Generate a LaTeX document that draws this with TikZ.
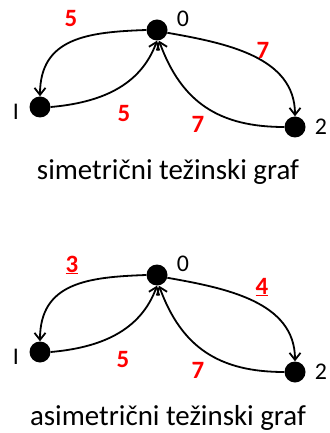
\documentclass[tikz,border=0pt]{standalone}
\usepackage{fontspec}
\setmainfont{Carlito}
\usetikzlibrary{arrows.meta}
\begin{document}
\begin{tikzpicture}[x=1bp,y=-1bp,
  vert/.style={circle,fill=black,inner sep=0pt,minimum size=21bp},
  vlab/.style={font=\fontsize{24}{28}\selectfont,inner sep=0pt},
  wlab/.style={font=\fontsize{25}{30}\selectfont\bfseries,text=red,inner sep=0pt},
  capt/.style={font=\fontsize{29}{34}\selectfont,anchor=base,inner sep=0pt},
  edge/.style={line width=1.8bp,-{Straight Barb[length=7bp,width=11bp,line width=1.8bp]}}]
\useasboundingbox (0,0) rectangle (329,433);
% top graph
\node[vert] (a0) at (157,30) {};
\node[vert] (a1) at (40,107) {};
\node[vert] (a2) at (295,127) {};
\node[vlab] (a0l) at (183,19) {0};
\node[vlab] (a1l) at (16,112) {I};
\node[vlab] (a2l) at (321,127) {2};
\draw[edge] (a0.west) to[out=182,in=90,looseness=1.2] (a1.north);
\draw[edge] (a1.east) to[out=5,in=250,looseness=1] (a0.south);
\draw[edge] (a0.-15) to[out=-10,in=90,looseness=1] (a2.north);
\draw[edge] (a2.west) to[out=180,in=290,looseness=1.1] ([xshift=2bp]a0.south);
\node[wlab] (a01) at (71,19) {5};
\node[wlab] (a10) at (124,114) {5};
\node[wlab] (a02) at (263,50) {7};
\node[wlab] (a20) at (198,124) {7};
\node[capt] (acap) at (168,180) {simetrični težinski graf};
% bottom graph
\node[vert] (b0) at (157,275) {};
\node[vert] (b1) at (40,352) {};
\node[vert] (b2) at (295,372) {};
\node[vlab] (b0l) at (183,264) {0};
\node[vlab] (b1l) at (16,357) {I};
\node[vlab] (b2l) at (321,372) {2};
\draw[edge] (b0.west) to[out=182,in=90,looseness=1.2] (b1.north);
\draw[edge] (b1.east) to[out=5,in=250,looseness=1] (b0.south);
\draw[edge] (b0.-15) to[out=-10,in=90,looseness=1] (b2.north);
\draw[edge] (b2.west) to[out=180,in=290,looseness=1.1] ([xshift=2bp]b0.south);
\node[wlab] (b01) at (72,265) {\underline{3}};
\node[wlab] (b10) at (123,360) {5};
\node[wlab] (b02) at (262,287) {\underline{4}};
\node[wlab] (b20) at (198,370) {7};
\node[capt] (bcap) at (168,425) {asimetrični težinski graf};
\end{tikzpicture}
\end{document}
